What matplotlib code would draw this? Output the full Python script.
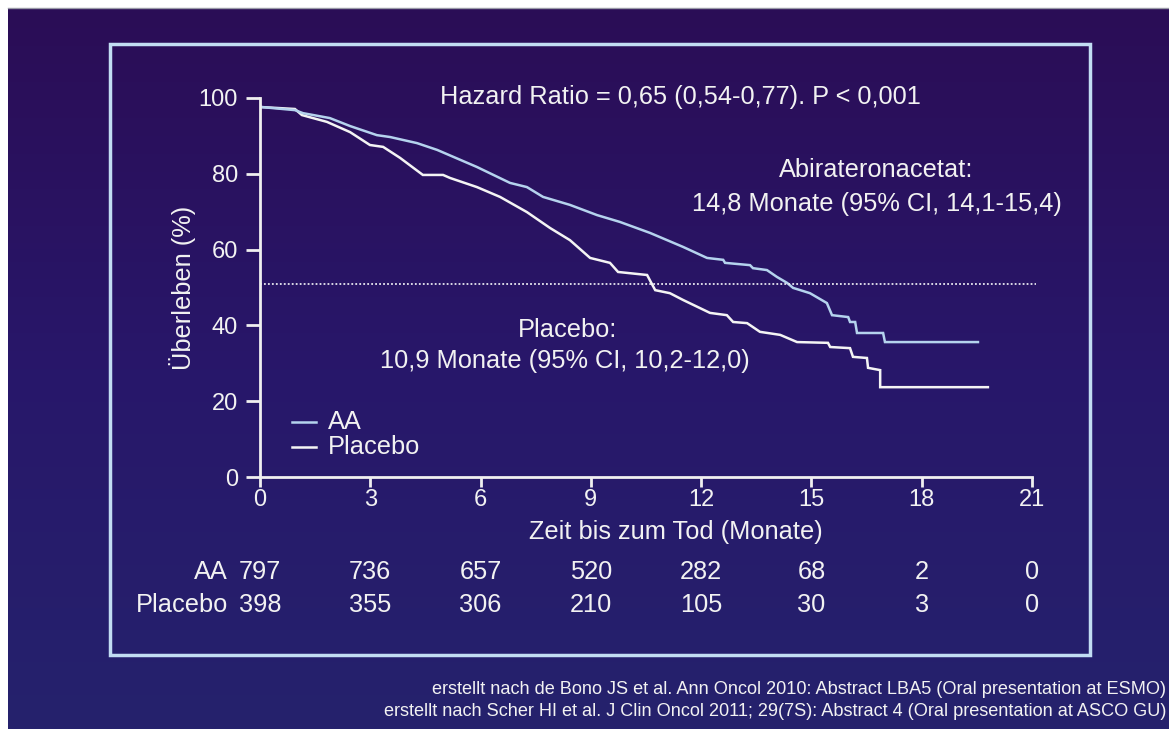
import numpy as np
import matplotlib
matplotlib.use("Agg")
import matplotlib.pyplot as plt
from matplotlib.colors import LinearSegmentedColormap
from matplotlib.patches import Rectangle

plt.rcParams['font.family'] = ['Liberation Sans', 'DejaVu Sans']

# ---------------- data ----------------
aa_months = [0.05, 0.95, 1.17, 1.90, 2.45, 3.18, 3.54, 4.27, 4.82, 5.90, 6.80, 7.26,
             7.70, 8.43, 9.17, 9.79, 10.61, 11.51, 12.16, 12.60, 12.65, 13.33, 13.41,
             13.79, 14.06, 14.34, 14.50, 14.96, 15.42, 15.56, 16.00, 16.05, 16.19,
             16.24, 16.95, 17.00, 19.53]
aa_surv = [97.6, 96.8, 96.0, 94.7, 92.6, 90.2, 89.7, 88.1, 86.3, 81.8, 77.6, 76.5,
           73.9, 71.8, 69.1, 67.3, 64.4, 60.7, 57.8, 57.3, 56.5, 55.9, 55.1,
           54.6, 52.8, 51.2, 49.9, 48.5, 45.9, 42.7, 42.2, 40.9, 40.9,
           38.0, 38.0, 35.6, 35.6]

pl_months = [0.05, 0.95, 1.14, 1.82, 2.45, 2.99, 3.35, 3.81, 4.43, 4.98, 5.17, 5.90,
             6.53, 7.26, 7.89, 8.43, 8.98, 9.52, 9.74, 10.53, 10.75, 11.15, 11.51,
             12.24, 12.70, 12.87, 13.25, 13.60, 14.15, 14.61, 15.45, 15.51, 16.05,
             16.13, 16.51, 16.54, 16.87, 16.87, 19.80]
pl_surv = [97.6, 97.1, 95.5, 93.7, 91.0, 87.6, 87.1, 84.2, 79.7, 79.7, 78.9, 76.5,
           73.9, 69.9, 65.7, 62.5, 57.8, 56.5, 54.1, 53.3, 49.3, 48.5, 46.7,
           43.3, 42.7, 40.9, 40.6, 38.3, 37.5, 35.6, 35.4, 34.3, 34.0,
           31.7, 31.4, 28.8, 28.2, 23.7, 23.7]

median_line = 51
x_ticks = [0, 3, 6, 9, 12, 15, 18, 21]
y_ticks = [0, 20, 40, 60, 80, 100]
risk_aa = [797, 736, 657, 520, 282, 68, 2, 0]
risk_pl = [398, 355, 306, 210, 105, 30, 3, 0]
series_labels = ["AA", "Placebo"]

# ---------------- figure ----------------
W, H = 1169, 729
fig = plt.figure(figsize=(W / 100, H / 100), dpi=100)
fig.patch.set_facecolor("white")

def fx(x):
    return x / W

def fy(y):
    return 1 - y / H

# background gradient
bg = fig.add_axes([fx(8), 0, 1 - fx(8), fy(9)])
cmap = LinearSegmentedColormap.from_list("bg", ["#2b0d56", "#28176a", "#25226d"])
grad = np.linspace(0, 1, 256).reshape(-1, 1)
bg.imshow(grad, aspect="auto", cmap=cmap, extent=[0, 1, 0, 1], origin="upper")
bg.set_axis_off()
fig.add_artist(plt.Line2D([fx(8), 1], [fy(8), fy(8)], color="#9a9aa8", lw=1))

# frame
frame = Rectangle((fx(110), fy(655)), fx(1090) - fx(110), fy(44) - fy(655),
                  transform=fig.transFigure, fill=False, ec="#c2ddf3", lw=2.5)
fig.add_artist(frame)

TXT = "#f2f2f2"
FS = 18.3
FT = 17

# main axes
ax = fig.add_axes([fx(260), fy(477), fx(1032) - fx(260), fy(98) - fy(477)])
ax.set_facecolor("none")
ax.set_xlim(0, 21)
ax.set_ylim(0, 100)
for s in ["top", "right"]:
    ax.spines[s].set_visible(False)
for s in ["left", "bottom"]:
    ax.spines[s].set_color("#f0f0f0")
    ax.spines[s].set_linewidth(2)
ax.set_xticks(x_ticks)
ax.set_yticks(y_ticks)
ax.tick_params(axis="x", colors="#f0f0f0", length=7.5, width=2, labelsize=FT,
               labelcolor=TXT, pad=1)
ax.tick_params(axis="y", colors="#f0f0f0", length=10, width=2, labelsize=FT,
               labelcolor=TXT, pad=6)

ax.plot(pl_months, pl_surv, color="#f4f4f4", lw=1.8, clip_on=False, solid_joinstyle="miter")
ax.plot(aa_months, aa_surv, color="#b5d3ee", lw=1.8, clip_on=False, solid_joinstyle="miter")
ax.plot([0, 21.1], [median_line, median_line], color="#e8e8f0", lw=1.3,
        linestyle=(0, (1, 1.2)), clip_on=False)

fig.text(fx(676), fy(532), "Zeit bis zum Tod (Monate)", fontsize=FS, color=TXT,
         ha="center", va="center")
fig.text(fx(183), fy(288), "Überleben (%)", fontsize=FS, color=TXT,
         ha="center", va="center", rotation=90)

# legend
leg_cols = ["#b5d3ee", "#f4f4f4"]
for i, (lab, c) in enumerate(zip(series_labels, leg_cols)):
    yy = 422 + i * 25
    fig.add_artist(plt.Line2D([fx(292), fx(316)], [fy(yy), fy(yy)], color=c, lw=1.8))
    fig.text(fx(328), fy(yy), lab, fontsize=FS, color=TXT, va="center", ha="left")

# annotations
fig.text(fx(680), fy(97), "Hazard Ratio = 0,65 (0,54-0,77). P < 0,001",
         fontsize=FS, color=TXT, ha="center", va="center")
fig.text(fx(876), fy(170), "Abirateronacetat:", fontsize=FS, color=TXT, ha="center", va="center")
fig.text(fx(877), fy(204), "14,8 Monate (95% CI, 14,1-15,4)", fontsize=FS, color=TXT,
         ha="center", va="center")
fig.text(fx(568), fy(330), "Placebo:", fontsize=FS, color=TXT, ha="center", va="center")
fig.text(fx(565), fy(361), "10,9 Monate (95% CI, 10,2-12,0)", fontsize=FS, color=TXT,
         ha="center", va="center")

# numbers at risk
rows = [(series_labels[0], risk_aa, 572), (series_labels[1], risk_pl, 605)]
for lab, vals, yy in rows:
    fig.text(fx(228), fy(yy), lab, fontsize=FS, color=TXT, ha="right", va="center")
    for t, v in zip(x_ticks, vals):
        xd = ax.transData.transform((t, 0))[0]
        xf = fig.transFigure.inverted().transform((xd, 0))[0]
        fig.text(xf, fy(yy), str(v), fontsize=FS, color=TXT, ha="center", va="center")

# footnotes
fig.text(fx(1166), fy(690),
         "erstellt nach de Bono JS et al. Ann Oncol 2010: Abstract LBA5 (Oral presentation at ESMO)",
         fontsize=13.1, color=TXT, ha="right", va="center")
fig.text(fx(1166), fy(712),
         "erstellt nach Scher HI et al. J Clin Oncol 2011; 29(7S): Abstract 4 (Oral presentation at ASCO GU)",
         fontsize=13.1, color=TXT, ha="right", va="center")

fig.savefig("out.png", dpi=100, facecolor=fig.get_facecolor())
